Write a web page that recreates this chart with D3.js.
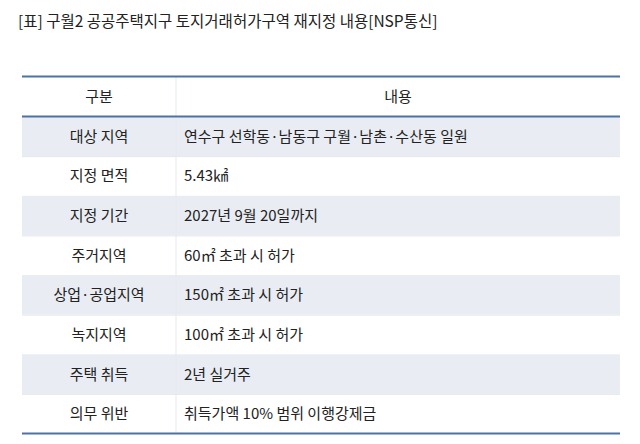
<!DOCTYPE html><html><head><meta charset="utf-8"><script src="https://d3js.org/d3.v7.min.js"></script>
<style>body{margin:0;background:#fff}</style></head><body><svg width="640" height="444"></svg><script>
const title="[표] 구월2 공공주택지구 토지거래허가구역 재지정 내용[NSP통신]";
const headers=["구분","내용"];
const categories=["대상 지역","지정 면적","지정 기간","주거지역","상업·공업지역","녹지지역","주택 취득","의무 위반"];
const contents=["연수구 선학동·남동구 구월·남촌·수산동 일원","5.43㎢","2027년 9월 20일까지","60㎡ 초과 시 허가","150㎡ 초과 시 허가","100㎡ 초과 시 허가","2년 실거주","취득가액 10% 범위 이행강제금"];
(function(){
const svg=d3.select("svg");const F="'Noto Sans CJK KR','Noto Sans',sans-serif";
svg.append("text").attr("x",18).attr("y",27).attr("font-family",F).attr("font-size",15.5).attr("fill","#222").text(title);
const x0=22,x1=620,xd=176,tY=77,hh=39.5;
const y=d3.scaleBand().domain(d3.range(categories.length)).range([tY+hh,433.5]);
const g=svg.append("g");
categories.forEach((c,i)=>{
 if(i%2===0)g.append("rect").attr("x",x0).attr("y",y(i)).attr("width",x1-x0).attr("height",y.bandwidth()).attr("fill","#e9edf3");
 else g.append("line").attr("x1",x0).attr("x2",x1).attr("y1",y(i)+0.5).attr("y2",y(i)+0.5).attr("stroke","#e3e7ee");
 g.append("text").attr("x",(x0+xd)/2).attr("y",y(i)+y.bandwidth()/2+5.5).attr("text-anchor","middle").attr("font-family",F).attr("font-size",15).attr("fill","#222").text(c);
 g.append("text").attr("x",184).attr("y",y(i)+y.bandwidth()/2+5.5).attr("font-family",F).attr("font-size",15).attr("fill","#222").text(contents[i]);
});
g.append("line").attr("x1",xd).attr("x2",xd).attr("y1",tY).attr("y2",433).attr("stroke","#e6e9ee");
g.append("text").attr("x",(x0+xd)/2).attr("y",tY+hh/2+5.5).attr("text-anchor","middle").attr("font-family",F).attr("font-size",15).attr("fill","#222").text(headers[0]);
g.append("text").attr("x",(xd+x1)/2).attr("y",tY+hh/2+5.5).attr("text-anchor","middle").attr("font-family",F).attr("font-size",15).attr("fill","#222").text(headers[1]);
[tY-0.5,tY+hh,433.5].forEach(v=>g.append("line").attr("x1",x0).attr("x2",x1).attr("y1",v).attr("y2",v).attr("stroke","#4d72a3").attr("stroke-width",2.2));
})();
</script></body></html>
